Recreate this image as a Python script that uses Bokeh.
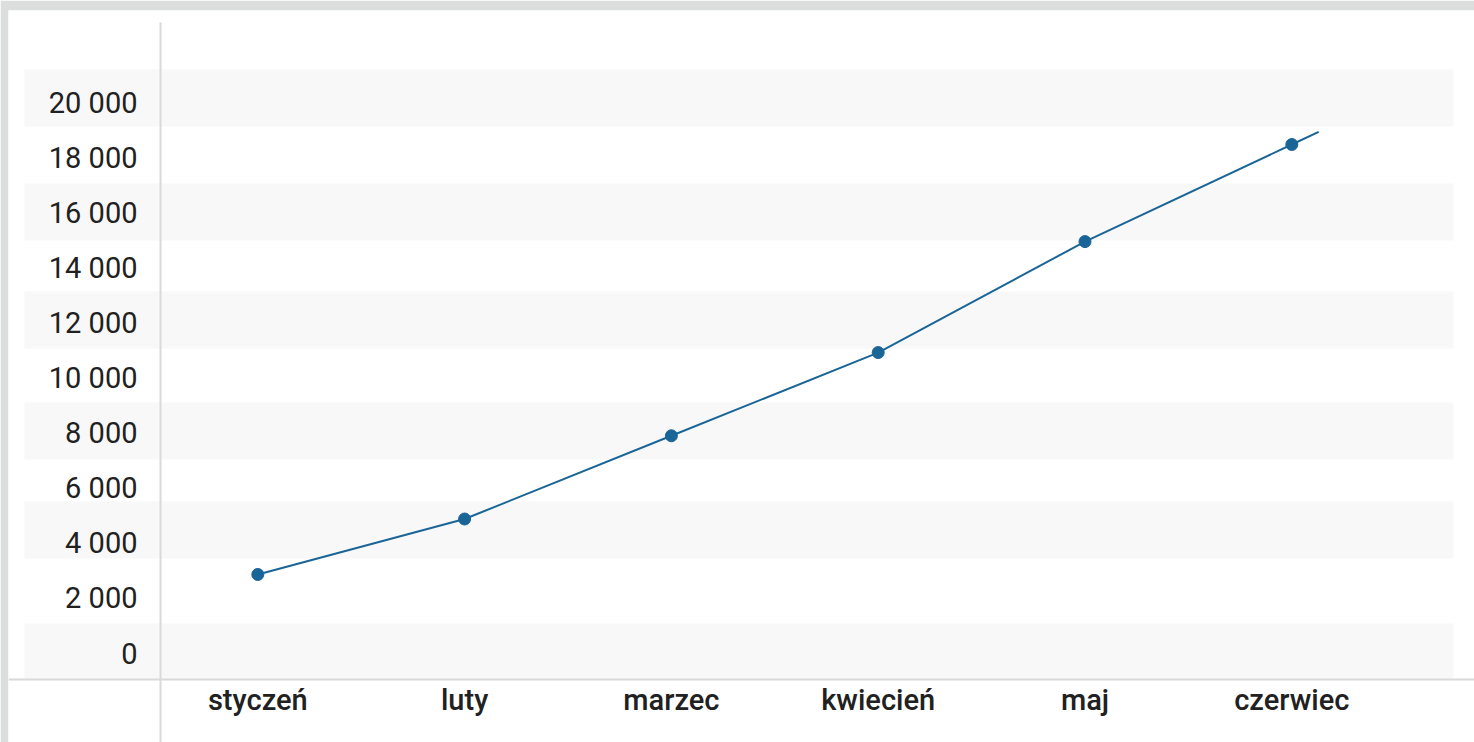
from bokeh.plotting import figure
from bokeh.models import Range1d, Span
from bokeh.embed import file_html
from bokeh.resources import INLINE
from bokeh.core.properties import value

# ---- data ----
months = ["styczeń", "luty", "marzec", "kwiecień", "maj", "czerwiec"]
sales = [3000, 5000, 8000, 11000, 15000, 18500]
y_ticks = [0, 2000, 4000, 6000, 8000, 10000, 12000, 14000, 16000, 18000, 20000]
y_tick_labels = ["0", "2 000", "4 000", "6 000", "8 000", "10 000",
                 "12 000", "14 000", "16 000", "18 000", "20 000"]

# ---- layout calibration (page pixels) ----
W, H = 1474, 742
LEFT, TOP = 8, 10                     # grey page strip on the left / top
X_ORIGIN, X_STEP = 257.3, 206.8      # page x of first category, px per category
Y_ZERO, Y_SCALE = 657.2, 0.02774     # page y of value 0, px per unit


def xi(px):
    return (px - X_ORIGIN) / X_STEP


def yv(py):
    return (Y_ZERO - py) / Y_SCALE


p = figure(width=W, height=H,
           x_range=Range1d(xi(LEFT), xi(W)),
           y_range=Range1d(yv(H), yv(TOP)),
           x_axis_location=None, y_axis_location=None,
           output_backend="svg", toolbar_location=None,
           min_border_left=LEFT, min_border_top=TOP,
           min_border_right=0, min_border_bottom=0)
p.grid.visible = False
p.outline_line_color = None
p.background_fill_color = "white"
p.border_fill_color = "#dcdedd"

# alternating bands
band_px = [(69, 126), (183, 240), (291, 348), (402, 459), (501, 558), (623, 679)]
p.quad(left=xi(24), right=xi(1453),
       top=[yv(a) for a, b in band_px], bottom=[yv(b) for a, b in band_px],
       fill_color="#f8f8f8", line_color=None)

# axis lines
p.segment(x0=[xi(160)], y0=[yv(22)], x1=[xi(160)], y1=[yv(H)],
          line_color="#d9d9d9", line_width=2)
p.add_layout(Span(location=yv(679), dimension="width",
                  line_color="#d9d9d9", line_width=2))

# y tick labels (label spacing slightly tighter than data scale)
lab_y = [yv(653 - t * (653 - 102.7) / 20000) for t in y_ticks]
p.text(x=[xi(137)] * len(y_ticks), y=lab_y, text=y_tick_labels,
       text_align="right", text_baseline="middle",
       text_font=value("Roboto"), text_font_size="29px", text_color="#212121")

# x tick labels
xs = list(range(len(months)))
p.text(x=xs, y=[yv(699)] * len(months), text=months,
       text_align="center", text_baseline="middle",
       text_font=value("Roboto Medium"), text_font_size="29px", text_color="#212121")

# series line (continues a little past the last point)
ext = 0.13
line_x = xs + [xs[-1] + ext]
line_y = sales + [sales[-1] + ext * (sales[-1] - sales[-2])]
p.line(line_x, line_y, line_color="#1a6597", line_width=2)
p.scatter(xs, sales, size=12, fill_color="#1a6597", line_color="#1a6597")

open("out.html", "w").write(file_html(p, INLINE))
